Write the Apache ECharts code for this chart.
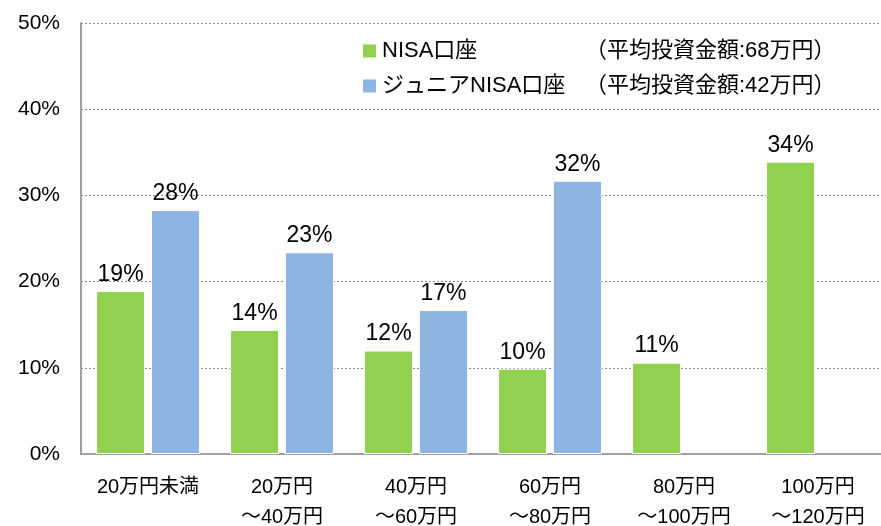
<!DOCTYPE html>
<html>
<head>
<meta charset="utf-8">
<script src="https://cdn.jsdelivr.net/npm/echarts@6/dist/echarts.min.js"></script>
<style>
  html, body { margin: 0; padding: 0; background: #fff; }
  #chart { width: 881px; height: 526px; }
</style>
</head>
<body>
<div id="chart"></div>
<script>
const categories = ['20万円未満', '20万円\n～40万円', '40万円\n～60万円', '60万円\n～80万円', '80万円\n～100万円', '100万円\n～120万円']
const seriesNames = ['NISA口座', 'ジュニアNISA口座']
const averageAmounts = ['68万円', '42万円']
const nisaValues = [18.9, 14.4, 12.0, 9.9, 10.6, 33.9]
const juniorValues = [28.3, 23.4, 16.7, 31.7, null, null]
const yTicks = [0, 10, 20, 30, 40, 50]

const font = '"Liberation Sans", Arial, "Noto Sans CJK JP", sans-serif'
const colors = ['#92d050', '#8eb4e3']

const chart = echarts.init(document.getElementById('chart'))

const barLabel = {
  show: true,
  position: 'top',
  distance: 5,
  color: '#000',
  fontSize: 23,
  fontFamily: font,
  formatter: p => Math.round(p.value) + '%'
}

chart.setOption({
  animation: false,
  backgroundColor: '#fff',
  textStyle: { fontFamily: font },
  grid: { left: 81, right: -4, top: 23, bottom: 72, outerBoundsMode: 'none', containLabel: false },
  legend: {
    orient: 'vertical',
    left: 356,
    top: 35,
    itemWidth: 15,
    itemHeight: 15,
    itemGap: 13,
    icon: 'rect',
    data: seriesNames,
    formatter: name => {
      const i = seriesNames.indexOf(name)
      return `{n|${name}}{a|（平均投資金額:${averageAmounts[i]}）}`
    },
    textStyle: {
      color: '#000',
      fontSize: 22,
      fontFamily: font,
      rich: {
        n: { width: 203, fontSize: 22, fontFamily: font },
        a: { fontSize: 22, fontFamily: font }
      }
    }
  },
  xAxis: {
    type: 'category',
    data: categories,
    axisLine: { show: true, lineStyle: { color: '#a0a0a0', width: 2 } },
    axisTick: { show: false },
    axisLabel: {
      color: '#000',
      fontSize: 20,
      fontFamily: font,
      lineHeight: 30,
      margin: 18,
      interval: 0
    }
  },
  yAxis: {
    type: 'value',
    min: yTicks[0],
    max: yTicks[yTicks.length - 1],
    interval: 10,
    axisLine: { show: true, lineStyle: { color: '#a0a0a0', width: 2 } },
    axisTick: { show: false },
    splitLine: { show: true, lineStyle: { color: '#888', type: [2, 2], width: 1 } },
    axisLabel: {
      color: '#000',
      fontSize: 21,
      fontFamily: font,
      margin: 21,
      formatter: '{value}%'
    }
  },
  series: [
    {
      name: seriesNames[0],
      type: 'bar',
      data: nisaValues,
      barWidth: 49,
      barGap: '12%',
      itemStyle: { color: colors[0], borderColor: '#fff', borderWidth: 1 },
      label: barLabel
    },
    {
      name: seriesNames[1],
      type: 'bar',
      data: juniorValues,
      barWidth: 49,
      barGap: '12%',
      itemStyle: { color: colors[1], borderColor: '#fff', borderWidth: 1 },
      label: barLabel
    }
  ]
})
</script>
</body>
</html>
